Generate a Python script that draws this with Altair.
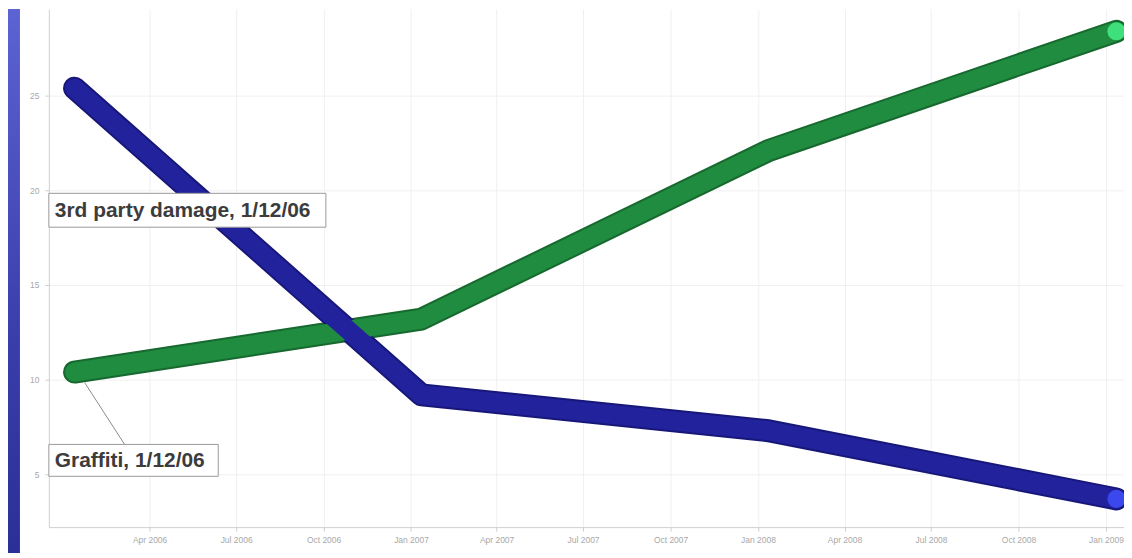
import altair as alt
import pandas as pd

# ---- data ----
dates = ["2006-01-12", "2007-01-12", "2008-01-12", "2009-01-12"]
graffiti = [10.4, 13.2, 22.1, 28.4]
third_party = [25.4, 9.2, 7.3, 3.7]
series_names = ["Graffiti", "3rd party damage"]
main_colors = ["#1f8c3f", "#22239c"]
edge_colors = ["#17692f", "#17177a"]
end_colors = ["#3fe07c", "#3a48ee"]
y_ticks = [5, 10, 15, 20, 25]
x_tick_dates = [(2006, 4), (2006, 7), (2006, 10), (2007, 1), (2007, 4), (2007, 7),
                (2007, 10), (2008, 1), (2008, 4), (2008, 7), (2008, 10), (2009, 1)]
label_texts = ["3rd party damage, 1/12/06", "Graffiti, 1/12/06"]

rows = []
for d, g, t in zip(dates, graffiti, third_party):
    rows.append({"date": d, "series": series_names[0], "value": g})
    rows.append({"date": d, "series": series_names[1], "value": t})
df = pd.DataFrame(rows)
last = df[df["date"] == dates[-1]]

W, H = 1079, 520
FONT = "Liberation Sans"

x_enc = alt.X("date:T",
              scale=alt.Scale(domain=[alt.DateTime(year=2005, month=12, date=16),
                                      alt.DateTime(year=2009, month=1, date=20)]),
              axis=alt.Axis(values=[alt.DateTime(year=y, month=m, date=1) for y, m in x_tick_dates],
                            format="%b %Y", title=None, labelFontSize=8.5, labelColor="#a8a8a8",
                            labelFont=FONT, grid=True, gridColor="#f0f0f0", domainColor="#cfcfcf",
                            tickColor="#cfcfcf", tickSize=4, labelPadding=4))
y_enc = alt.Y("value:Q",
              scale=alt.Scale(domain=[2.21, 29.58], nice=False, zero=False),
              axis=alt.Axis(values=y_ticks, title=None, labelFontSize=8.5, labelColor="#a8a8a8",
                            labelFont=FONT, grid=True, gridColor="#f0f0f0", domainColor="#cfcfcf",
                            tickColor="#cfcfcf", tickSize=4, labelPadding=6))

one = pd.DataFrame({"k": [0]})

strip = alt.Chart(one).mark_rect(
    fill=alt.LinearGradient(gradient="linear", x1=0, y1=0, x2=0, y2=1,
                            stops=[alt.GradientStop(color="#5c63d2", offset=0),
                                   alt.GradientStop(color="#3a3eab", offset=0.6),
                                   alt.GradientStop(color="#2c2f97", offset=1)])
).encode(x=alt.value(-41), x2=alt.value(-29), y=alt.value(0), y2=alt.value(H + 26))

shadow = alt.Chart(df).mark_line(strokeWidth=23, strokeCap="round", strokeJoin="round").encode(
    x=x_enc, y=y_enc,
    color=alt.Color("series:N", scale=alt.Scale(domain=series_names, range=edge_colors), legend=None))

lines = alt.Chart(df).mark_line(strokeWidth=19, strokeCap="round", strokeJoin="round").encode(
    x=x_enc, y=y_enc,
    color=alt.Color("series:N", scale=alt.Scale(domain=series_names, range=main_colors), legend=None))

ends = alt.Chart(last).mark_circle(size=330, opacity=1).encode(
    x=x_enc, y=y_enc,
    color=alt.Color("series:N", scale=alt.Scale(domain=series_names, range=end_colors), legend=None))

leader = alt.Chart(one).mark_rule(color="#8a8a8a", strokeWidth=1).encode(
    x=alt.value(36), y=alt.value(375), x2=alt.value(76), y2=alt.value(437))

box1 = alt.Chart(one).mark_rect(fill="white", stroke="#9a9a9a", strokeWidth=1).encode(
    x=alt.value(0), x2=alt.value(278), y=alt.value(185), y2=alt.value(219))
box2 = alt.Chart(one).mark_rect(fill="white", stroke="#9a9a9a", strokeWidth=1).encode(
    x=alt.value(0), x2=alt.value(170), y=alt.value(437), y2=alt.value(469))

txt1 = alt.Chart(one).mark_text(align="left", baseline="middle", fontSize=21, font=FONT,
                                fontWeight="bold", color="#3c3c3c").encode(
    x=alt.value(6), y=alt.value(203), text=alt.value(label_texts[0]))
txt2 = alt.Chart(one).mark_text(align="left", baseline="middle", fontSize=21, font=FONT,
                                fontWeight="bold", color="#3c3c3c").encode(
    x=alt.value(6), y=alt.value(454), text=alt.value(label_texts[1]))

chart = alt.layer(strip, shadow, lines, ends, leader, box1, box2, txt1, txt2).resolve_scale(
    color="independent"
).properties(
    width=W, height=H,
    autosize=alt.AutoSizeParams(type="none"),
    padding={"left": 41, "top": 0, "right": 0, "bottom": 26},
    background="white",
).configure_view(stroke=None, fill="white")

chart.save("out.html", embed_options={"renderer": "svg", "actions": False})
